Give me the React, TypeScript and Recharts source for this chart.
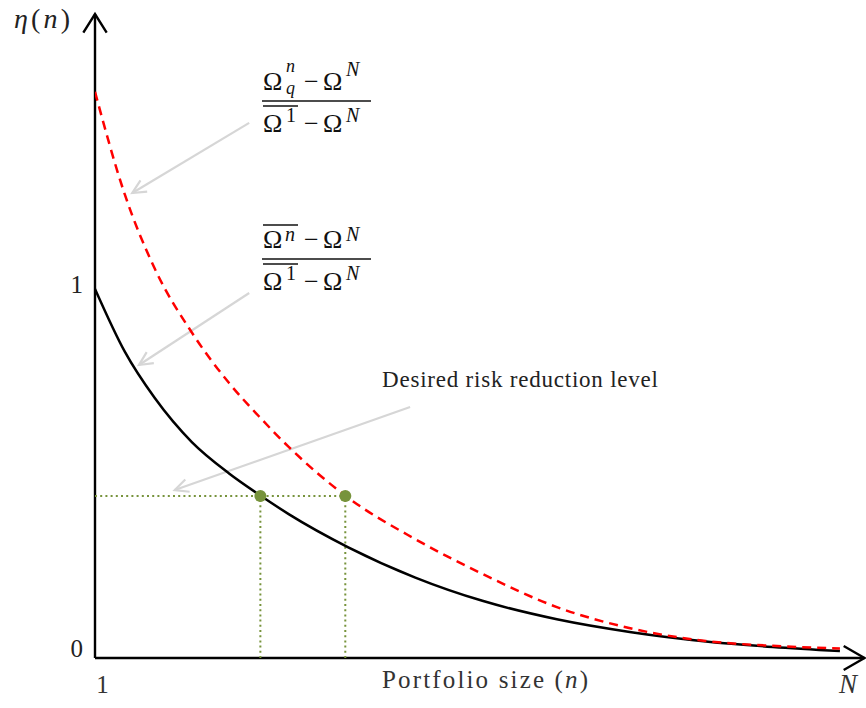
import React from "react";
import {
  LineChart,
  Line,
  XAxis,
  YAxis,
  ReferenceLine,
  ReferenceDot,
} from "recharts";

// portfolio size n (0 = first asset, 100 = N)
const portfolioSize = [0, 4, 8, 13, 18, 22, 26, 34, 43, 52, 62, 72, 82, 91, 100];
// black solid curve: (mean Omega^n - Omega^N) / (mean Omega^1 - Omega^N)
const meanRatio = [1.0, 0.83, 0.705, 0.585, 0.5, 0.443, 0.39, 0.3, 0.218, 0.155, 0.105, 0.07, 0.045, 0.03, 0.019];
// red dashed curve: (Omega_q^n - Omega^N) / (mean Omega^1 - Omega^N)
const quantileRatio = [1.534, 1.256, 1.056, 0.882, 0.745, 0.655, 0.572, 0.434, 0.322, 0.228, 0.138, 0.08, 0.046, 0.033, 0.026];

const desiredLevel = 0.439;
const meanHit = 22.2;
const quantileHit = 33.6;

const yTicks = [0, 1];
const xTicks = [1, 101.8];
const xTickLabels = ["1", "N"];

// gray annotation arrows [from, to] in data units
const pointerArrows = [
  [{ x: 20.7, y: 1.45 }, { x: 5.0, y: 1.26 }],
  [{ x: 20.7, y: 0.989 }, { x: 5.9, y: 0.794 }],
  [{ x: 42.3, y: 0.68 }, { x: 10.7, y: 0.455 }],
];

const data = portfolioSize.map((n, i) => ({
  n,
  mean: meanRatio[i],
  quantile: quantileRatio[i],
}));

const SERIF = "'Liberation Serif', 'DejaVu Serif', serif";
const GREEN = "#77933c";

function arrowShape(color: string, width: number, head: number, spread: number) {
  return (p: any) => {
    const { x1, y1, x2, y2 } = p;
    const ang = Math.atan2(y2 - y1, x2 - x1);
    const ax = x2 - head * Math.cos(ang - spread);
    const ay = y2 - head * Math.sin(ang - spread);
    const bx = x2 - head * Math.cos(ang + spread);
    const by = y2 - head * Math.sin(ang + spread);
    return (
      <g>
        <line x1={x1} y1={y1} x2={x2} y2={y2} stroke={color} strokeWidth={width} />
        <polyline
          points={`${ax},${ay} ${x2},${y2} ${bx},${by}`}
          fill="none"
          stroke={color}
          strokeWidth={width}
        />
      </g>
    );
  };
}

const YTick = (props: any) => {
  const { y, payload } = props;
  const dy = payload.value === 0 ? -1 : 4;
  return (
    <text x={83} y={y + dy} textAnchor="end" fontFamily={SERIF} fontSize={25} fill="#222">
      {payload.value}
    </text>
  );
};

const XTick = (props: any) => {
  const { x, payload, index } = props;
  const isN = index === 1;
  return (
    <text
      x={x}
      y={693}
      textAnchor="middle"
      fontFamily={SERIF}
      fontSize={isN ? 27 : 25}
      fontStyle={isN ? "italic" : "normal"}
      fill="#333"
    >
      {xTickLabels[index]}
    </text>
  );
};

function Fraction({ top, numBar }: { top: number; numBar: boolean }) {
  // top = baseline of the numerator
  const fs = 26;
  const ss = 20;
  const numBase = top;
  const lineY = top + 11;
  const denBase = top + 42;
  const numSup = numBar ? -7 : -14;
  return (
    <g fontFamily={SERIF} fill="#111">
      <text x={263} y={numBase} fontSize={fs}>Ω</text>
      {numBar ? (
        <>
          <line x1={263} x2={298} y1={numBase - 23} y2={numBase - 23} stroke="#111" strokeWidth={1.6} />
          <text x={285} y={numBase + numSup} fontSize={ss} fontStyle="italic">n</text>
        </>
      ) : (
        <>
          <text x={286} y={numBase - 18} fontSize={18} fontStyle="italic">n</text>
          <text x={286} y={numBase + 4} fontSize={18} fontStyle="italic">q</text>
        </>
      )}
      <text x={304} y={numBase} fontSize={fs}>−</text>
      <text x={323} y={numBase} fontSize={fs}>Ω</text>
      <text x={346} y={numBase + numSup} fontSize={ss} fontStyle="italic">N</text>
      <line x1={262} x2={371} y1={lineY} y2={lineY} stroke="#111" strokeWidth={1.7} />
      <line x1={263} x2={298} y1={lineY + 5} y2={lineY + 5} stroke="#111" strokeWidth={1.6} />
      <text x={263} y={denBase} fontSize={fs}>Ω</text>
      <text x={286} y={denBase - 10} fontSize={ss}>1</text>
      <text x={304} y={denBase} fontSize={fs}>−</text>
      <text x={323} y={denBase} fontSize={fs}>Ω</text>
      <text x={346} y={denBase - 10} fontSize={ss} fontStyle="italic">N</text>
    </g>
  );
}

export default function App() {
  return (
    <div style={{ position: "absolute", left: 0, top: 0, width: 866, height: 708, background: "#fff" }}>
      <LineChart
        width={866}
        height={708}
        data={data}
        margin={{ top: 14, right: 0, bottom: 20, left: 0 }}
      >
        <XAxis
          type="number"
          dataKey="n"
          domain={[0, 103.5]}
          ticks={xTicks}
          tick={<XTick />}
          axisLine={false}
          tickLine={false}
          height={30}
          allowDataOverflow
        />
        <YAxis
          type="number"
          domain={[0, 1.745]}
          ticks={yTicks}
          tick={<YTick />}
          axisLine={false}
          tickLine={false}
          width={95}
          allowDataOverflow
        />
        {/* axes with open arrow heads */}
        <ReferenceLine
          segment={[{ x: 0, y: 0 }, { x: 0, y: 1.745 }]}
          shape={arrowShape("#000", 2.4, 22, 0.56)}
        />
        <ReferenceLine
          segment={[{ x: 0, y: 0 }, { x: 103.3, y: 0 }]}
          shape={arrowShape("#000", 2.4, 24, 0.52)}
        />
        {pointerArrows.map((seg, i) => (
          <ReferenceLine key={i} segment={seg} shape={arrowShape("#d6d6d6", 2.2, 15, 0.45)} />
        ))}
        {/* desired risk reduction level guides */}
        <ReferenceLine
          segment={[{ x: 0, y: desiredLevel }, { x: 34.3, y: desiredLevel }]}
          stroke={GREEN}
          strokeWidth={2}
          strokeDasharray="2 3.2"
        />
        <ReferenceLine
          segment={[{ x: meanHit, y: 0 }, { x: meanHit, y: desiredLevel }]}
          stroke={GREEN}
          strokeWidth={2}
          strokeDasharray="2 3.2"
        />
        <ReferenceLine
          segment={[{ x: quantileHit, y: 0 }, { x: quantileHit, y: desiredLevel }]}
          stroke={GREEN}
          strokeWidth={2}
          strokeDasharray="2 3.2"
        />
        <Line
          type="monotone"
          dataKey="mean"
          stroke="#000"
          strokeWidth={2.5}
          dot={false}
          isAnimationActive={false}
        />
        <Line
          type="monotone"
          dataKey="quantile"
          stroke="#ff0000"
          strokeWidth={2.5}
          strokeDasharray="9 6"
          dot={false}
          isAnimationActive={false}
        />
        <ReferenceDot x={meanHit} y={desiredLevel} r={6} fill={GREEN} stroke="none" />
        <ReferenceDot x={quantileHit} y={desiredLevel} r={6} fill={GREEN} stroke="none" />
      </LineChart>
      <svg
        width={866}
        height={708}
        style={{ position: "absolute", left: 0, top: 0, pointerEvents: "none" }}
      >
        <text x={14} y={28} fontFamily={SERIF} fontSize={28} fill="#222" textLength={56} lengthAdjust="spacing">
          <tspan fontStyle="italic">η</tspan>
          <tspan>(</tspan>
          <tspan fontStyle="italic">n</tspan>
          <tspan>)</tspan>
        </text>
        <Fraction top={90} numBar={false} />
        <Fraction top={248} numBar={true} />
        <text x={382} y={387} fontFamily={SERIF} fontSize={23} fill="#222" textLength={276} lengthAdjust="spacing">
          Desired risk reduction level
        </text>
        <text x={382} y={688} fontFamily={SERIF} fontSize={25} fill="#333" textLength={206} lengthAdjust="spacing">
          Portfolio size (<tspan fontStyle="italic">n</tspan>)
        </text>
      </svg>
    </div>
  );
}
